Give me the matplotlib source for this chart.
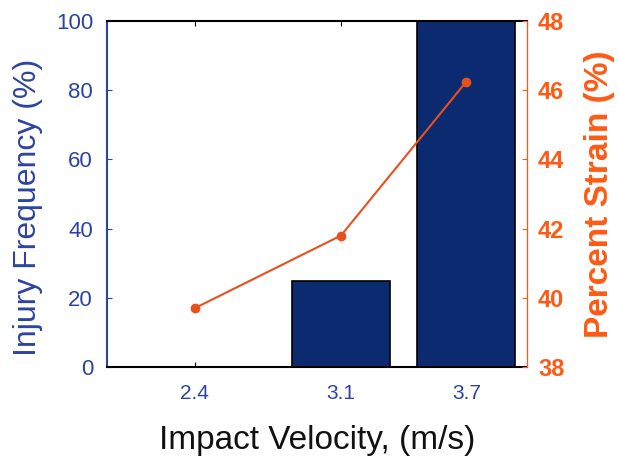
import matplotlib.pyplot as plt

plt.rcParams['font.family'] = ['Liberation Sans', 'DejaVu Sans']

# data
velocity = [2.4, 3.1, 3.7]
velocity_labels = ['2.4', '3.1', '3.7']
injury_freq = [0, 25, 100]
strain = [39.7, 41.8, 46.25]

BLUE = '#2c44a0'
NAVY = '#0c2a70'
ORANGE = '#ff5a14'
LINE = '#e8501e'

fig = plt.figure(figsize=(6.18, 4.59), dpi=100)
ax = fig.add_axes([0.1731, 0.2004, 0.6796, 0.7538])

ax.bar(velocity, injury_freq, width=0.47, color=NAVY, edgecolor='black', linewidth=1.2, zorder=2)
ax.set_xlim(1.98, 3.99)
ax.set_ylim(0, 100)
ax.set_xticks(velocity)
ax.set_xticklabels(velocity_labels)
ax.set_yticks(range(0, 101, 20))
ax.tick_params(axis='x', direction='in', top=True, colors='black', labelcolor=BLUE, labelsize=15, pad=12)
ax.tick_params(axis='y', direction='in', colors=BLUE, labelcolor=BLUE, labelsize=16, pad=10)
ax.spines['left'].set_color(BLUE)
ax.spines['left'].set_linewidth(1.5)
ax.spines['bottom'].set_linewidth(1.5)
ax.spines['top'].set_linewidth(1.5)
ax.set_ylabel('Injury Frequency (%)', fontsize=23, color=BLUE)
ax.yaxis.set_label_coords(-0.152, 0.46)
ax.set_xlabel('Impact Velocity, (m/s)', fontsize=24, color='#111111', labelpad=16)

ax2 = ax.twinx()
ax2.plot(velocity, strain, color=LINE, linewidth=1.5, marker='o', markersize=6, zorder=3)
ax2.set_ylim(38, 48)
ax2.set_yticks(range(38, 49, 2))
ax2.tick_params(axis='y', direction='in', colors=ORANGE, labelcolor=ORANGE, labelsize=17, pad=8)
for lbl in ax2.get_yticklabels():
    lbl.set_fontweight('bold')
ax2.spines['right'].set_color(ORANGE)
ax2.spines['left'].set_visible(False)
ax2.spines['top'].set_visible(False)
ax2.spines['bottom'].set_visible(False)
ax2.set_ylabel('Percent Strain (%)', fontsize=24, color=ORANGE, fontweight='bold', labelpad=14)

fig.savefig('out.png', dpi=100)
